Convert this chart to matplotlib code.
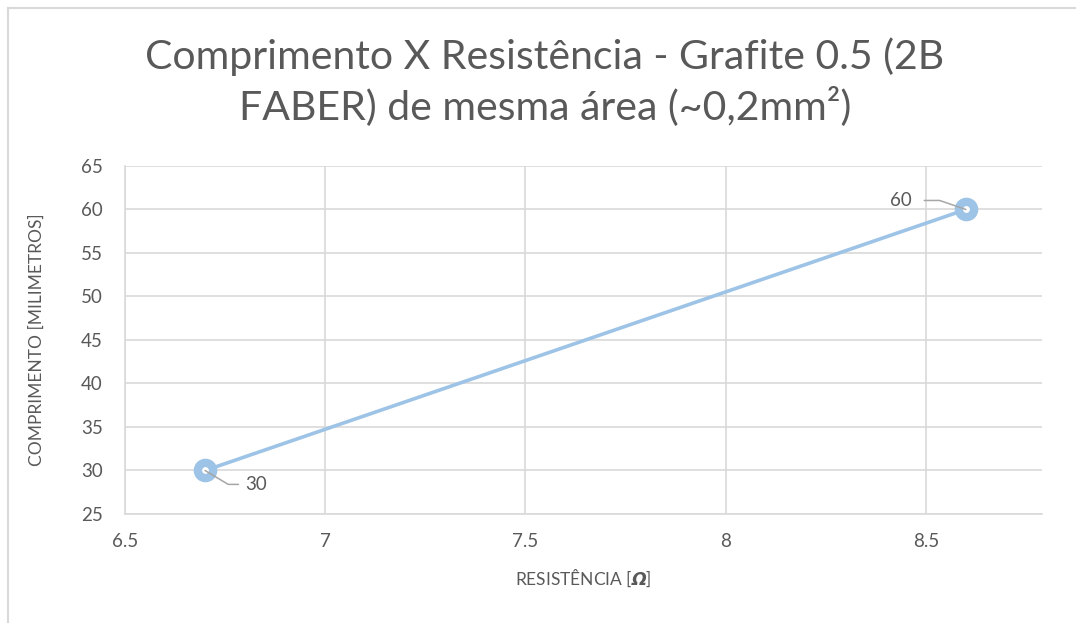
import numpy as np
import matplotlib
matplotlib.use("Agg")
import matplotlib.pyplot as plt
from matplotlib.lines import Line2D

# dados
resistencia = [6.7, 8.6]
comprimento = [30, 60]
rotulos = ["30", "60"]

x_ticks = [6.5, 7, 7.5, 8, 8.5]
x_tick_labels = ["6.5", "7", "7.5", "8", "8.5"]
y_ticks = [25, 30, 35, 40, 45, 50, 55, 60, 65]

titulo = "Comprimento X Resistência - Grafite 0.5 (2B\nFABER) de mesma área (~0,2mm²)"

FONTE = ["Lato", "DejaVu Sans"]
plt.rcParams["font.family"] = FONTE
plt.rcParams["mathtext.fontset"] = "custom"
plt.rcParams["mathtext.bf"] = "DejaVu Sans:italic:bold"

CINZA_TXT = "#595959"
CINZA_GRADE = "#d9d9d9"
AZUL = "#9dc3e6"

fig = plt.figure(figsize=(10.76, 6.23), dpi=100)
ax = fig.add_axes([125 / 1076, 1 - 514 / 623, 917 / 1076, 348 / 623])

# moldura externa (estilo excel)
fig.add_artist(Line2D([8 / 1076, 8 / 1076], [0, 1 - 8 / 623], transform=fig.transFigure,
                      color=CINZA_GRADE, lw=1.5))
fig.add_artist(Line2D([8 / 1076, 1], [1 - 8 / 623, 1 - 8 / 623], transform=fig.transFigure,
                      color=CINZA_GRADE, lw=1.5))

ax.plot(resistencia, comprimento, color=AZUL, lw=2.6, marker="o", markersize=11,
        markerfacecolor="white", markeredgecolor=AZUL, markeredgewidth=6,
        solid_capstyle="round", zorder=3)

# rotulos com linha guia
ax.annotate(rotulos[1], xy=(resistencia[1], comprimento[1]), xytext=(-39, 6.5),
            textcoords="offset points", ha="right", va="center", fontsize=13.5, color=CINZA_TXT,
            arrowprops=dict(arrowstyle="-", color="#a6a6a6", lw=1.1, shrinkA=7, shrinkB=0,
                            relpos=(1, 0.5), connectionstyle="angle,angleA=0,angleB=-19,rad=0"),
            zorder=4)
ax.annotate(rotulos[0], xy=(resistencia[0], comprimento[0]), xytext=(29, -10),
            textcoords="offset points", ha="left", va="center", fontsize=13.5, color=CINZA_TXT,
            arrowprops=dict(arrowstyle="-", color="#a6a6a6", lw=1.1, shrinkA=3, shrinkB=0,
                            relpos=(0, 0.5), connectionstyle="angle,angleA=0,angleB=-31,rad=0"),
            zorder=4)

ax.set_xlim(6.5, 8.79)
ax.set_ylim(25, 65)
ax.set_xticks(x_ticks)
ax.set_xticklabels(x_tick_labels)
ax.set_yticks(y_ticks)
ax.grid(True, color=CINZA_GRADE, lw=1.2)
ax.set_axisbelow(True)
for lado in ["top", "right"]:
    ax.spines[lado].set_visible(False)
for lado in ["left", "bottom"]:
    ax.spines[lado].set_color(CINZA_GRADE)
    ax.spines[lado].set_linewidth(1.2)
ax.tick_params(axis="both", length=0, labelsize=13.5, labelcolor=CINZA_TXT)
ax.tick_params(axis="y", pad=16)
ax.tick_params(axis="x", pad=14)

ax.set_xlabel(r"RESISTÊNCIA [$\mathbf{\Omega}$]", fontsize=12.5, color=CINZA_TXT, labelpad=12)
ax.set_ylabel("COMPRIMENTO [MILIMETROS]", fontsize=12.5, color=CINZA_TXT, labelpad=26)

fig.text(545 / 1076, 1 - 82 / 623, titulo, ha="center", va="center", fontsize=29.5,
         fontweight="normal", color=CINZA_TXT, linespacing=1.3)

fig.savefig("out.png", dpi=100)
